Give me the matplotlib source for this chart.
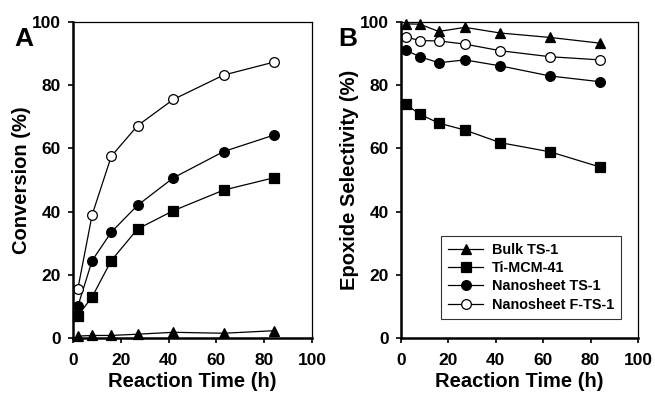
import matplotlib
matplotlib.use('Agg')
import matplotlib.pyplot as plt

plt.rcParams['font.family'] = ['Liberation Sans', 'DejaVu Sans']
plt.rcParams['font.weight'] = 'bold'

# reaction times (h)
time = [2, 8, 16, 27, 42, 63, 84]

# panel A - conversion (%)
conv_bulk = [0.6, 0.8, 0.8, 1.2, 1.8, 1.5, 2.3]
conv_mcm = [7, 13, 24.5, 34.5, 40.3, 46.8, 50.7]
conv_nano = [10, 24.5, 33.5, 42, 50.7, 59, 64.2]
conv_fts = [15.5, 39, 57.5, 67.2, 75.5, 83.2, 87.3]

# panel B - epoxide selectivity (%)
sel_bulk = [99.4, 99.3, 97, 98.3, 96.5, 95.1, 93.3]
sel_mcm = [74, 70.8, 68, 65.8, 61.8, 58.9, 54.1]
sel_nano = [91.1, 89, 87.1, 88, 86.1, 82.9, 81.1]
sel_fts = [95.3, 94.1, 94, 93, 90.9, 89, 88]

labels = ['Bulk TS-1', 'Ti-MCM-41', 'Nanosheet TS-1', 'Nanosheet F-TS-1']
markers = ['^', 's', 'o', 'o']
faces = ['black', 'black', 'black', 'white']

fig = plt.figure(figsize=(6.55, 3.96), dpi=100)
axA = fig.add_axes([0.1115, 0.1465, 0.365, 0.798])
axB = fig.add_axes([0.612, 0.1465, 0.362, 0.798])

def style(ax, ylabel):
    ax.set_xlim(0, 100)
    ax.set_ylim(0, 100)
    ax.set_xticks(range(0, 101, 20))
    ax.set_yticks(range(0, 101, 20))
    ax.tick_params(direction='out', length=3.6, width=1.2, labelsize=12.5)
    ax.tick_params(axis='x', pad=7)
    ax.tick_params(axis='y', pad=5)
    for s in ['left', 'bottom']:
        ax.spines[s].set_linewidth(1.8)
    for s in ['top', 'right']:
        ax.spines[s].set_linewidth(0.9)
    ax.set_xlabel('Reaction Time (h)', fontsize=14.5, fontweight='bold', labelpad=3)
    ax.set_ylabel(ylabel, fontsize=14.5, fontweight='bold', labelpad=1)

for ax, series in [(axA, [conv_bulk, conv_mcm, conv_nano, conv_fts]),
                   (axB, [sel_bulk, sel_mcm, sel_nano, sel_fts])]:
    for y, lab, m, fc in zip(series, labels, markers, faces):
        ax.plot(time, y, color='black', lw=0.9, marker=m, markersize=7,
                markerfacecolor=fc, markeredgecolor='black', markeredgewidth=0.9,
                label=lab, clip_on=False)

style(axA, 'Conversion (%)')
style(axB, 'Epoxide Selectivity (%)')

fig.text(0.022, 0.885, 'A', fontsize=19, fontweight='bold')
fig.text(0.517, 0.885, 'B', fontsize=19, fontweight='bold')

leg = axB.legend(loc='lower left', bbox_to_anchor=(0.17, 0.06), fontsize=10.4,
                 frameon=True, fancybox=False, edgecolor='black',
                 handlelength=2.4, handletextpad=0.6, borderpad=0.5,
                 borderaxespad=0, labelspacing=0.3)
leg.get_frame().set_linewidth(0.8)
for t in leg.get_texts():
    t.set_fontweight('bold')

plt.savefig('out.png', dpi=100)
plt.close()
